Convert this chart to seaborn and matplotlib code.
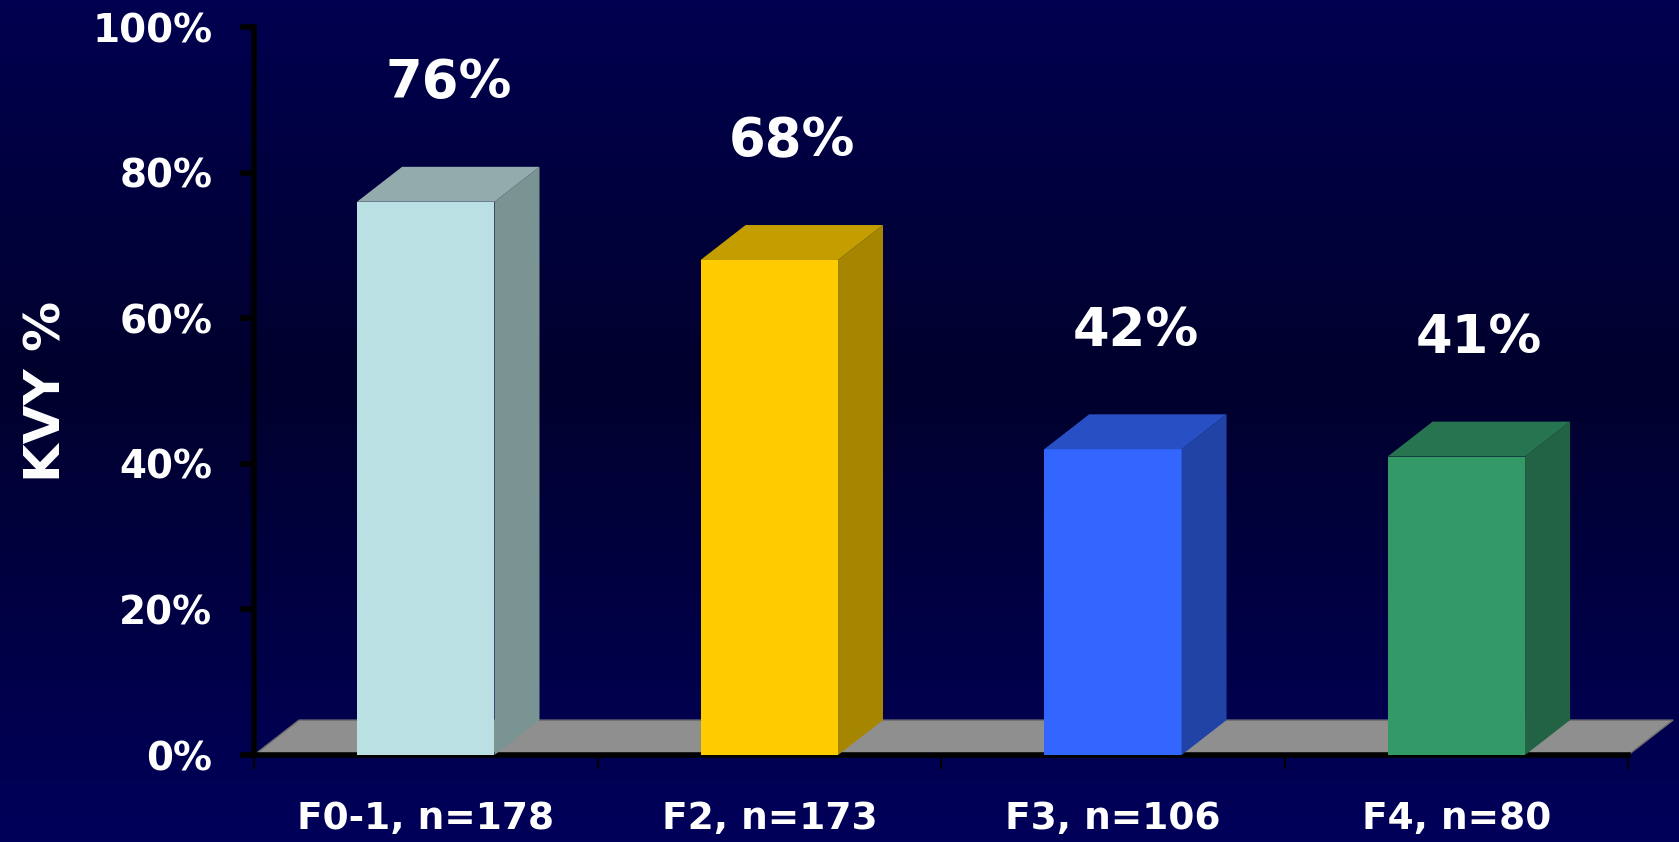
import numpy as np
import pandas as pd
import seaborn as sns
import matplotlib.pyplot as plt
from matplotlib.patches import Polygon
from matplotlib.colors import LinearSegmentedColormap

groups = ["F0-1, n=178", "F2, n=173", "F3, n=106", "F4, n=80"]
kvy = [76, 68, 42, 41]
value_labels = ["76%", "68%", "42%", "41%"]
y_ticks = [0, 20, 40, 60, 80, 100]

front_colors = ["#BBE0E3", "#FFCC00", "#3366FF", "#339966"]
side_colors = ["#7A9493", "#A68600", "#2143A6", "#216344"]
top_colors = ["#93ABAD", "#C49E00", "#2850C4", "#267550"]

sns.set_style("white")
plt.rcParams['font.family'] = ['DejaVu Sans']

fig = plt.figure(figsize=(16.79, 8.42), dpi=100, facecolor="#000040")

# navy gradient background
bg = fig.add_axes([0, 0, 1, 1], zorder=-10)
cmap = LinearSegmentedColormap.from_list(
    "bg", [(0, (0, 0, 80 / 255)), (0.45, (0, 0, 45 / 255)), (1, (0, 0, 90 / 255))])
bg.imshow(np.linspace(0, 1, 256).reshape(-1, 1), aspect='auto', cmap=cmap, extent=[0, 1, 0, 1])
bg.axis('off')

ax = fig.add_axes([0.1513, 0.1033, 0.8184, 0.8646])
ax.set_facecolor('none')

df = pd.DataFrame({"group": groups, "kvy": kvy})
sns.barplot(data=df, x="group", y="kvy", hue="group", palette=front_colors,
            width=0.4, saturation=1, linewidth=0, legend=False, ax=ax, zorder=3)
bars = list(ax.patches)

ax.set_xlim(-0.5, 3.5)
ax.set_ylim(0, 100)

# fake 3d depth
dx, dy = 0.131, 4.8
floor = Polygon([(-0.5, 0), (3.5, 0), (3.5 + dx, dy), (-0.5 + dx, dy)],
                closed=True, facecolor="#8F8F8F", edgecolor="#6E6E6E", lw=1,
                zorder=1, clip_on=False)
ax.add_patch(floor)

for i, p in enumerate(bars):
    x0, w, h = p.get_x(), p.get_width(), p.get_height()
    side = Polygon([(x0 + w, 0), (x0 + w + dx, dy), (x0 + w + dx, h + dy), (x0 + w, h)],
                   closed=True, facecolor=side_colors[i], lw=0, zorder=3, clip_on=False)
    top = Polygon([(x0, h), (x0 + dx, h + dy), (x0 + w + dx, h + dy), (x0 + w, h)],
                  closed=True, facecolor=top_colors[i], lw=0, zorder=3, clip_on=False)
    ax.add_patch(side)
    ax.add_patch(top)
    ax.text(x0 + w / 2 + dx / 2, h + dy + 11.5, value_labels[i], ha='center', va='center',
            color='white', fontsize=38, fontweight='bold')

sns.despine(ax=ax)
for s in ["left", "bottom"]:
    ax.spines[s].set_color("black")
    ax.spines[s].set_linewidth(4)

ax.set_yticks(y_ticks, labels=[f"{v}%" for v in y_ticks])
ax.tick_params(axis='y', length=10, width=4, color='black', labelcolor='white',
               labelsize=28, pad=20, left=True)
ax.set_xticks(range(len(groups)), labels=groups)
ax.set_xticks([-0.5, 0.5, 1.5, 2.5, 3.5], minor=True)
ax.tick_params(axis='x', which='major', length=0, labelcolor='white', labelsize=27, pad=33)
ax.tick_params(axis='x', which='minor', length=10, width=1.5, color='black', bottom=True)
for lab in ax.get_xticklabels() + ax.get_yticklabels():
    lab.set_fontweight('bold')

ax.set_xlabel("")
ax.set_ylabel("KVY %", color='white', fontsize=36, fontweight='bold', labelpad=16)

fig.savefig("out.png", dpi=100, facecolor=fig.get_facecolor())
